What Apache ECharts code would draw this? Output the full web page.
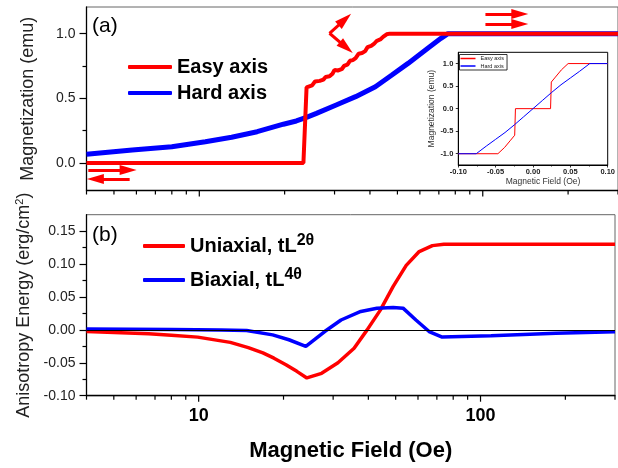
<!DOCTYPE html>
<html><head><meta charset="utf-8">
<script src="https://cdn.jsdelivr.net/npm/echarts@6/dist/echarts.min.js"></script>
<style>html,body{margin:0;padding:0;background:#fff}#c{width:618px;height:468px}</style>
</head><body><div id="c"></div>
<script>
const FONT = 'Liberation Sans, Arial, sans-serif';

// ---- Panel (a): magnetization (emu) vs magnetic field (Oe)
const easyAxisM = [[4,0],[23.3,0],[23.9,0.585],[24.2,0.585],[25.0,0.60],[25.6,0.63],[26.6,0.635],[27.4,0.645],[27.9,0.665],[28.8,0.67],[29.5,0.69],[30.0,0.72],[30.8,0.715],[31.8,0.725],[32.4,0.75],[33.3,0.76],[34.0,0.79],[34.8,0.795],[35.6,0.81],[36.5,0.845],[37.5,0.85],[38.5,0.865],[39.2,0.895],[40.4,0.905],[41.3,0.92],[42.3,0.945],[43.5,0.955],[44.5,0.975],[45.8,0.995],[47,1.0],[300,1.0]];
const hardAxisM = [[4,0.067],[5.8,0.10],[8,0.126],[10.5,0.165],[13,0.199],[16,0.242],[19.8,0.30],[22,0.325],[24,0.355],[25.9,0.384],[30.4,0.449],[35.6,0.513],[41.8,0.59],[47.8,0.68],[54.5,0.77],[64,0.887],[71.2,0.964],[75.4,1.0],[300,1.0]];
// annotation arrows in panel (a), [from, to] in data coordinates
const arrowsA = [
  [[102.2,1.152],[135.1,1.152]],
  [[102.2,1.075],[135.1,1.075]],
  [[4.06,-0.054],[5.61,-0.054]],
  [[5.68,-0.124],[4.30,-0.124]],
  [[28.8,1.003],[32.6,1.109]],
  [[28.8,1.003],[33.0,0.8925]]
];

// ---- Panel (b): anisotropy energy (erg/cm^2) vs field (Oe)
const uniaxialE = [[4,-0.0025],[6.65,-0.006],[8,-0.008],[9.92,-0.011],[12.95,-0.019],[15,-0.027],[16.9,-0.035],[18.5,-0.043],[20.4,-0.053],[22.3,-0.063],[24.2,-0.073],[27.3,-0.066],[31.2,-0.050],[35.6,-0.028],[39.6,0.0],[44.1,0.030],[49,0.066],[54.5,0.098],[60.6,0.119],[67.5,0.128],[74.1,0.130],[300,0.130]];
const biaxialE = [[4,0.0015],[8,0.0005],[12,-0.0003],[14.8,-0.001],[18.3,-0.0076],[20.9,-0.015],[24.0,-0.025],[28.0,-0.0025],[32.0,0.015],[37.6,0.028],[42.9,0.033],[49,0.034],[53.1,0.033],[59,0.015],[65.7,-0.0025],[73.1,-0.011],[108.9,-0.009],[185,-0.005],[300,-0.003]];

// ---- Inset: magnetization vs field
const insetEasy = [[-0.1,-1],[-0.047,-1],[-0.038,-0.86],[-0.030,-0.70],[-0.0245,-0.59],[-0.0235,0],[0.0235,0],[0.0245,0.59],[0.030,0.70],[0.038,0.86],[0.047,1],[0.1,1]];
const insetHard = [[-0.1,-1],[-0.076,-1],[-0.0625,-0.83],[-0.05,-0.68],[-0.0375,-0.53],[-0.025,-0.36],[-0.0125,-0.18],[0,0],[0.0125,0.18],[0.025,0.36],[0.0375,0.53],[0.05,0.68],[0.0625,0.83],[0.076,1],[0.1,1]];

// ---- Axis ranges and ticks
const fieldRange = [4, 300];
const magRange = [-0.2125, 1.206];
const energyRange = [-0.10, 0.175];
const fieldMajorTicks = [10,100];
const fieldMinorTicks = [4,5,6,7,8,9,20,30,40,50,60,70,80,90,200,300];
const xTickLabels = ['10','100'];
const magTicks = [0,0.5,1.0];
const magMinorTicks = [0.25,0.75];
const energyTicks = [-0.10,-0.05,0,0.05,0.10,0.15];
const energyMinorTicks = [-0.075,-0.025,0.025,0.075,0.125];
const insetMagTicks = [-1,-0.5,0,0.5,1];

const chart = echarts.init(document.getElementById('c'), null, {renderer:'canvas'});

function logAxis(grid, showLabels) {
  return {type:'log', logBase:10, gridIndex:grid, min:fieldRange[0], max:fieldRange[1],
    axisLine:{show:true, onZero:false, lineStyle:{color:'#000', width:1.3}},
    axisTick:{show:false}, minorTick:{show:false}, splitLine:{show:false},
    axisLabel:{show:showLabels, margin:11, color:'#000', fontFamily:FONT, fontSize:18, fontWeight:'bold',
      formatter: v => { const s = String(Math.round(v)); return (Math.abs(v - Math.round(v)) < 1e-6 && xTickLabels.includes(s)) ? s : ''; }},
    name: showLabels ? 'Magnetic Field (Oe)' : '', nameLocation:'middle', nameGap:44,
    nameTextStyle:{fontFamily:FONT, fontSize:22, fontWeight:'bold', color:'#000'}
  };
}
function majorY(grid, range, ticks, digits, name, gap) {
  return {type:'value', gridIndex:grid, min:range[0], max:range[1], position:'left',
    axisLine:{show:true, onZero:false, lineStyle:{color:'#000', width:1.3}},
    axisTick:{show:true, length:7, customValues:ticks, lineStyle:{color:'#000', width:1.2}},
    axisLabel:{customValues:ticks, formatter: v => v.toFixed(digits), margin:11, fontSize:14, color:'#222', fontFamily:FONT},
    splitLine:{show:false},
    name:name, nameLocation:'middle', nameGap:gap,
    nameTextStyle:{fontSize:18, fontFamily:FONT, color:'#222',
      rich:{n:{fontSize:18, fontFamily:FONT, color:'#222'}, sup:{fontSize:11, fontFamily:FONT, color:'#222', verticalAlign:'top', lineHeight:12}}}
  };
}
function minorY(grid, range, ticks) {
  return {type:'value', gridIndex:grid, min:range[0], max:range[1], position:'left',
    axisLine:{show:false, onZero:false},
    axisTick:{show:true, length:4, customValues:ticks, lineStyle:{color:'#000', width:1.2}},
    axisLabel:{show:false}, splitLine:{show:false}};
}
// x-axis ticks of the log axes, drawn as thin rect symbols hanging below the axis line
function tickSeries(xi, yi, yMin, ticks, len) {
  return {type:'scatter', xAxisIndex:xi, yAxisIndex:yi, silent:true, clip:false, z:6, animation:false,
    symbol:'rect', symbolSize:[1.2, len], symbolOffset:[0, len / 2],
    itemStyle:{color:'#000', opacity:1}, emphasis:{disabled:true},
    data: ticks.map(v => [v, yMin])};
}

const option = {
  animation:false,
  backgroundColor:'#fff',
  textStyle:{fontFamily:FONT},
  grid:[
    {left:86.5, top:7, width:541, height:183.5, show:true, borderColor:'#666', borderWidth:1},
    {left:86.5, top:214.7, width:541, height:181, show:true, borderColor:'#666', borderWidth:1},
    {left:458.3, top:52.3, width:157.5, height:112.7, show:true, borderColor:'#000', borderWidth:1, backgroundColor:'#fff', z:3}
  ],
  xAxis:[
    logAxis(0, false),
    logAxis(1, true),
    {type:'value', gridIndex:2, min:-0.1, max:0.1, interval:0.05, z:4,
      axisLine:{show:true, onZero:false, lineStyle:{color:'#000', width:1}},
      axisTick:{show:true, length:2.5, lineStyle:{color:'#000', width:0.8}},
      minorTick:{show:true, splitNumber:2, length:1.5, lineStyle:{color:'#000', width:0.8}},
      axisLabel:{margin:3, fontSize:7.5, fontWeight:'bold', color:'#222', fontFamily:FONT, formatter: v => v.toFixed(2)},
      splitLine:{show:false},
      name:'Magnetic Field (Oe)', nameLocation:'middle', nameGap:12.5,
      nameTextStyle:{fontSize:8.5, fontFamily:FONT, color:'#333', padding:[0,0,0,20]}}
  ],
  yAxis:[
    majorY(0, magRange, magTicks, 1, 'Magnetization (emu)', 49),
    minorY(0, magRange, magMinorTicks),
    majorY(1, energyRange, energyTicks, 2, '{n|Anisotropy Energy (erg/cm}{sup|2}{n|)}', 50),
    minorY(1, energyRange, energyMinorTicks),
    {type:'value', gridIndex:2, min:-1.25, max:1.25, position:'left', z:4,
      axisLine:{show:true, onZero:false, lineStyle:{color:'#000', width:1}},
      axisTick:{show:true, length:2.5, customValues:insetMagTicks, lineStyle:{color:'#000', width:0.8}},
      axisLabel:{customValues:insetMagTicks, margin:5, fontSize:7.5, fontWeight:'bold', color:'#222', fontFamily:FONT, formatter: v => v.toFixed(1)},
      splitLine:{show:false},
      name:'Magnetization (emu)', nameLocation:'middle', nameGap:21,
      nameTextStyle:{fontSize:8.5, fontFamily:FONT, color:'#333'}}
  ],
  legend:[
    {data:['Easy axis','Hard axis'], left:128, top:57, orient:'vertical', icon:'roundRect', itemWidth:44, itemHeight:4, itemGap:6, padding:0,
      textStyle:{fontSize:20, fontWeight:'bold', color:'#000', fontFamily:FONT}, selectedMode:false},
    {data:['Uniaxial','Biaxial'], left:143, top:233, orient:'vertical', icon:'roundRect', itemWidth:42, itemHeight:4, itemGap:11, padding:0,
      formatter: name => name === 'Uniaxial' ? '{n|Uniaxial, tL}{sup|2θ}' : '{n|Biaxial, tL}{sup|4θ}',
      textStyle:{fontSize:20, fontWeight:'bold', color:'#000', fontFamily:FONT,
        rich:{n:{fontSize:20, fontWeight:'bold', color:'#000', fontFamily:FONT, lineHeight:26, verticalAlign:'middle'},
              sup:{fontSize:16, fontWeight:'bold', color:'#000', fontFamily:FONT, lineHeight:16, verticalAlign:'top'}}},
      selectedMode:false},
    {data:['Easy axis (inset)','Hard axis (inset)'], left:459.5, top:54.5, orient:'vertical', icon:'rect', itemWidth:15, itemHeight:1.5, itemGap:1.5,
      padding:[1,3,1,1], borderColor:'#000', borderWidth:0.8, backgroundColor:'#fff', z:6,
      formatter: name => name.replace(' (inset)',''),
      textStyle:{fontSize:5.5, color:'#222', fontFamily:FONT}, selectedMode:false}
  ],
  graphic:[
    {type:'text', left:92, top:16, z:10, style:{text:'(a)', font:'21px Liberation Sans', fill:'#000'}},
    {type:'text', left:92, top:225, z:10, style:{text:'(b)', font:'21px Liberation Sans', fill:'#000'}}
  ],
  series:[
    {name:'Easy axis', type:'line', xAxisIndex:0, yAxisIndex:0, data:easyAxisM, symbol:'none', z:3,
      lineStyle:{color:'#ff0000', width:4}, itemStyle:{color:'#ff0000'},
      markLine:{silent:true, animation:false, symbol:['none','triangle'], symbolSize:15,
        label:{show:false}, lineStyle:{color:'#ff0000', width:3, type:'solid'},
        emphasis:{disabled:true},
        data: arrowsA.map(s => [{coord:s[0]}, {coord:s[1], symbolSize:[10,17]}])}},
    {name:'Hard axis', type:'line', xAxisIndex:0, yAxisIndex:0, data:hardAxisM, symbol:'none', z:2,
      lineStyle:{color:'#0000ff', width:5}, itemStyle:{color:'#0000ff'}},
    {name:'Uniaxial', type:'line', xAxisIndex:1, yAxisIndex:2, data:uniaxialE, symbol:'none', z:3,
      lineStyle:{color:'#ff0000', width:3.5}, itemStyle:{color:'#ff0000'},
      markLine:{silent:true, animation:false, symbol:['none','none'], label:{show:false},
        lineStyle:{color:'#000', width:1, type:'solid'}, emphasis:{disabled:true}, data:[{yAxis:0}]}},
    {name:'Biaxial', type:'line', xAxisIndex:1, yAxisIndex:2, data:biaxialE, symbol:'none', z:3,
      lineStyle:{color:'#0000ff', width:3.5}, itemStyle:{color:'#0000ff'}},
    {name:'Easy axis (inset)', type:'line', xAxisIndex:2, yAxisIndex:4, data:insetEasy, symbol:'none', z:5,
      lineStyle:{color:'#ff0000', width:1}, itemStyle:{color:'#ff0000'}},
    {name:'Hard axis (inset)', type:'line', xAxisIndex:2, yAxisIndex:4, data:insetHard, symbol:'none', z:5,
      lineStyle:{color:'#0000ff', width:1}, itemStyle:{color:'#0000ff'}},
    tickSeries(0, 0, magRange[0], fieldMinorTicks, 4),
    tickSeries(0, 0, magRange[0], fieldMajorTicks, 6),
    tickSeries(1, 2, energyRange[0], fieldMinorTicks, 4),
    tickSeries(1, 2, energyRange[0], fieldMajorTicks, 6)
  ]
};
chart.setOption(option);
</script></body></html>
